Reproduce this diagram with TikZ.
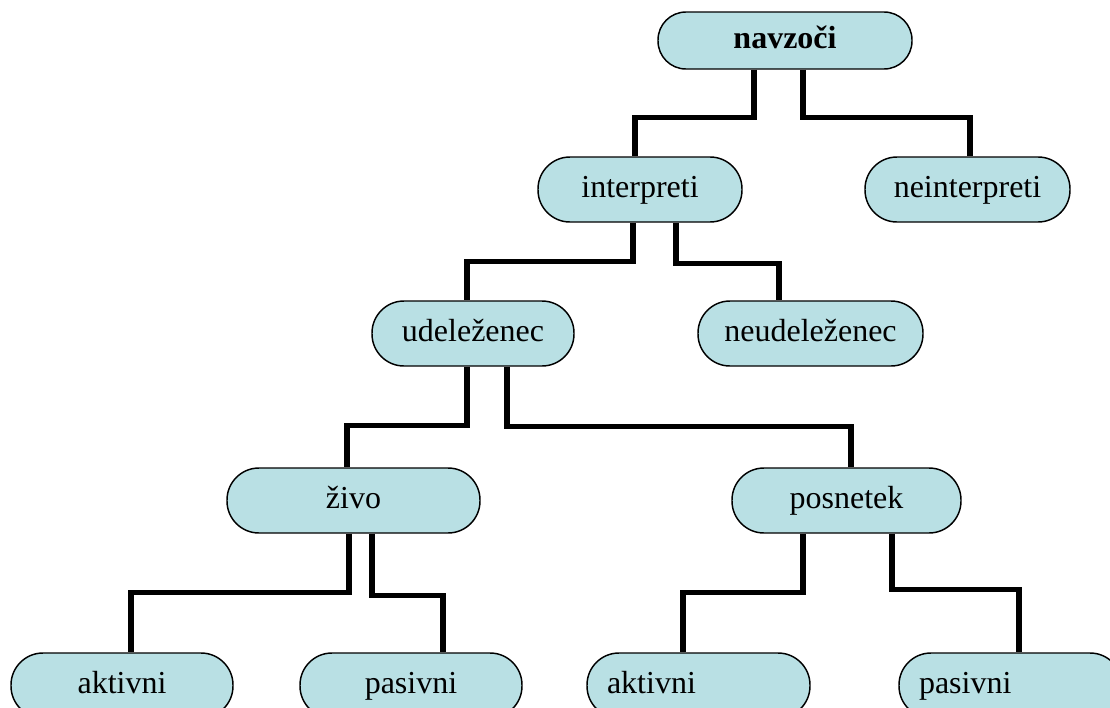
\documentclass[tikz,border=0pt]{standalone}
\usepackage{fontspec}
\setmainfont{Liberation Serif}
\definecolor{boxfill}{RGB}{185,224,228}
\begin{document}
\begin{tikzpicture}[x=0.75pt,y=-0.75pt,
  box/.style={draw=black, line width=1.1pt, fill=boxfill, rounded corners=24pt,
    minimum height=48.75pt, inner xsep=4pt, inner ysep=0pt,
    text height=16.5pt, text depth=5pt, font=\fontsize{24}{28}\selectfont},
  leftbox/.style={box, inner xsep=15pt, text width=137.25pt, align=left},
  conn/.style={line width=4.1pt, draw=black}]
\useasboundingbox (0,0) rectangle (1110,707);
\clip (0,0) rectangle (1110,707);

\node[box, minimum width=190.5pt, minimum height=42.75pt, rounded corners=21pt] (navzoci) at (785,40.5) {\textbf{navzoči}};
\node[box, minimum width=153pt] (interpreti) at (640,189.5) {interpreti};
\node[box, minimum width=153.75pt] (neinterpreti) at (967.5,189.5) {neinterpreti};
\node[box, minimum width=151.5pt] (udelezenec) at (473,333.5) {udeleženec};
\node[box, minimum width=168.75pt] (neudelezenec) at (810.5,333.5) {neudeleženec};
\node[box, minimum width=189.75pt] (zivo) at (353.5,500.5) {živo};
\node[box, minimum width=171.75pt] (posnetek) at (846.5,500.5) {posnetek};
\node[box, minimum width=166.5pt] (aktivniL) at (122,685.5) {aktivni};
\node[box, minimum width=166.5pt] (pasivniL) at (411,685.5) {pasivni};
\node[leftbox] (aktivniR) at (698.5,685.5) {aktivni};
\node[leftbox] (pasivniR) at (1010.5,685.5) {pasivni};

\draw[conn] ([shift={(-31,0)}]navzoci.south) -- ++(0,48) -| ([shift={(-5,0)}]interpreti.north);
\draw[conn] ([shift={(18,0)}]navzoci.south) -- ++(0,48) -| ([shift={(2.5,0)}]neinterpreti.north);
\draw[conn] ([shift={(-7,0)}]interpreti.south) -- ++(0,39) -| ([shift={(-6,0)}]udelezenec.north);
\draw[conn] ([shift={(36,0)}]interpreti.south) -- ++(0,41) -| ([shift={(-31.5,0)}]neudelezenec.north);
\draw[conn] ([shift={(-6,0)}]udelezenec.south) -- ++(0,59) -| ([shift={(-6.5,0)}]zivo.north);
\draw[conn] ([shift={(34,0)}]udelezenec.south) -- ++(0,60) -| ([shift={(4.5,0)}]posnetek.north);
\draw[conn] ([shift={(-4.5,0)}]zivo.south) -- ++(0,59) -| ([shift={(9,0)}]aktivniL.north);
\draw[conn] ([shift={(18.5,0)}]zivo.south) -- ++(0,62) -| ([shift={(32,0)}]pasivniL.north);
\draw[conn] ([shift={(-43.5,0)}]posnetek.south) -- ++(0,59) -| ([shift={(-15.5,0)}]aktivniR.north);
\draw[conn] ([shift={(45.5,0)}]posnetek.south) -- ++(0,56) -| ([shift={(8.5,0)}]pasivniR.north);
\end{tikzpicture}
\end{document}
